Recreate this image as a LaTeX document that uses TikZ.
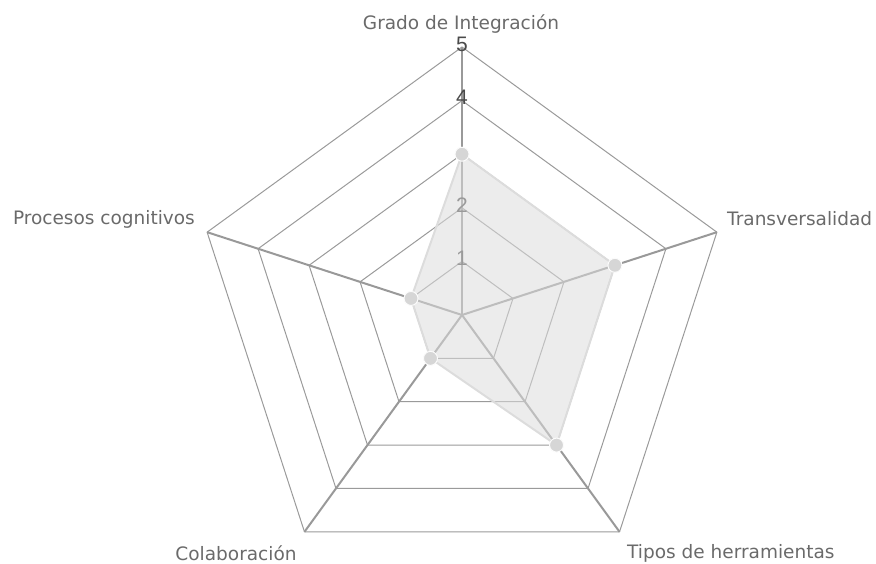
\documentclass[tikz,border=0pt]{standalone}
\usepackage{fontspec}
\setmainfont{DejaVu Sans}
\newfontfamily\tickfont{Liberation Sans}
\usetikzlibrary{positioning}

\definecolor{webgray}{HTML}{9A9A9A}
\definecolor{spokegray}{HTML}{999999}
\definecolor{labelgray}{HTML}{6A6A6A}
\definecolor{tickgray}{HTML}{4A4A4A}
\definecolor{areagray}{HTML}{DCDCDC}
\definecolor{pointgray}{HTML}{D6D6D6}

\tikzset{
  web/.style={draw=webgray, line width=1pt, line join=round},
  spoke/.style={draw=spokegray, line width=2pt},
  axislabel/.style={text=labelgray, font=\fontsize{18.5}{21}\selectfont, inner sep=0pt},
  ticklabel/.style={text=tickgray, font=\tickfont\fontsize{21}{24}\selectfont, inner sep=0pt},
  dataarea/.style={fill=areagray, fill opacity=0.55, draw=areagray, line width=2pt, line join=round},
  datapoint/.style={circle, fill=pointgray, draw=white!90!pointgray, line width=1pt, inner sep=0pt, minimum size=14pt},
}

\begin{document}
\begin{tikzpicture}[x=1pt, y=1pt]
    \useasboundingbox (0,0) rectangle (876,563);

    \begin{scope}[shift={(462,248)}]
        % Web
        \foreach \r in {1,...,5}
            \draw[web] (90:{53.6*\r}) -- (162:{53.6*\r}) -- (234:{53.6*\r}) -- (306:{53.6*\r}) -- (18:{53.6*\r}) -- cycle;

        % Spokes
        \foreach \a in {90,162,234,306,18}
            \draw[spoke] (0,0) -- (\a:268);

        % Scale
        \foreach \r in {1,2,4,5}
            \node[ticklabel] (tick\r) at (0,{53.6*\r+3}) {\r};

        % Values
        \draw[dataarea] (90:160.8) -- (162:53.6) -- (234:53.6) -- (306:160.8) -- (18:160.8) -- cycle;
        \node[datapoint] (pgrado) at (90:160.8) {};
        \node[datapoint] (pproc) at (162:53.6) {};
        \node[datapoint] (pcolab) at (234:53.6) {};
        \node[datapoint] (ptipos) at (306:160.8) {};
        \node[datapoint] (ptrans) at (18:160.8) {};
    \end{scope}

    % Axis labels
    \node[axislabel] (lgrado) at (461,539) {Grado de Integración};
    \node[axislabel, anchor=east] (lproc) at (195,344) {Procesos cognitivos};
    \node[axislabel, anchor=west] (ltrans) at (727,344) {Transversalidad};
    \node[axislabel] (lcolab) at (236,10) {Colaboración};
    \node[axislabel, anchor=west] (ltipos) at (627,10) {Tipos de herramientas};
\end{tikzpicture}
\end{document}
